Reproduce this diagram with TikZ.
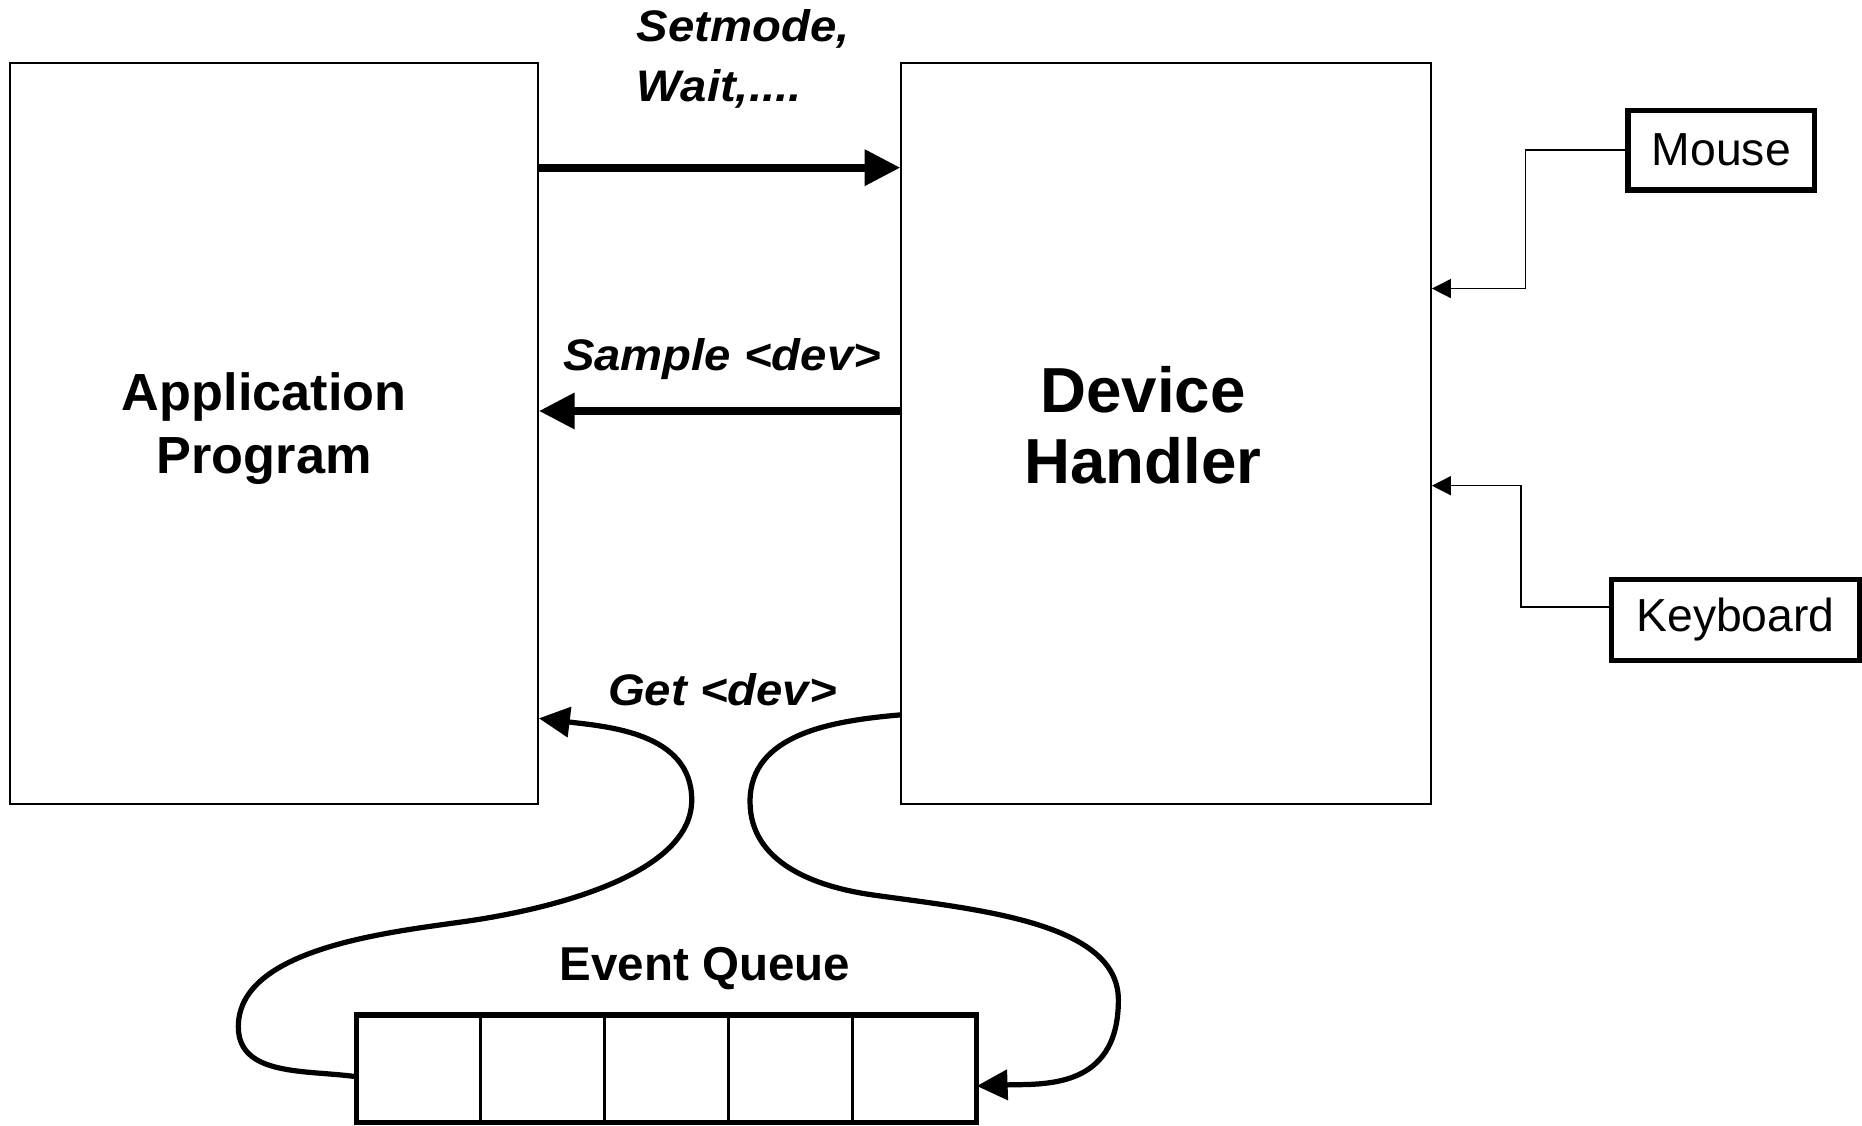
\documentclass[tikz,border=0pt]{standalone}
\usepackage{fontspec}
\setmainfont{Liberation Sans}
\newfontfamily\slantfont[FakeStretch=1.07]{Liberation Sans}
\usetikzlibrary{arrows.meta}
\begin{document}
\begin{tikzpicture}[x=0.5pt,y=0.5pt,
	block/.style={draw,line width=0.8pt,minimum height=312pt},
	dev/.style={draw,line width=2.3pt,inner sep=0pt,font=\fontsize{19.5}{23}\selectfont},
	cell/.style={draw,line width=1.1pt,minimum width=52.25pt,minimum height=45.15pt,inner sep=0pt,outer sep=0pt},
	title/.style={inner sep=0pt,align=center,font=\bfseries},
	call/.style={inner sep=0pt,font=\slantfont\bfseries\itshape\fontsize{18.6}{25}\selectfont},
	bigarrow/.style={line width=3.3pt,-{Triangle[length=15pt,width=14.5pt]}},
	wire/.style={line width=0.6pt,-{Triangle[length=8pt,width=8pt]}},
	qarrow/.style={line width=2.2pt,-{Triangle[length=13pt,width=12.5pt]}}]
	\useasboundingbox (0,0) rectangle (1568,948);
	\node[block,minimum width=222.25pt] (app) at (230.75,583) {};
	\node[block,minimum width=223pt] (dev) at (982,583) {};
	\node[title,anchor=north,font=\bfseries\fontsize{22}{26.5}\selectfont] (apptext) at (222.5,634.2) {Application\\Program};
	\node[title,anchor=north,font=\bfseries\fontsize{26.8}{30}\selectfont] (devtext) at (962.5,639.7) {Device\\Handler};
	\node[dev,minimum width=78.5pt,minimum height=33.5pt] (mouse) at (1449.5,821.5) {Mouse};
	\node[dev,minimum width=104.5pt,minimum height=34pt] (kbd) at (1461.5,426) {Keyboard};
	\node[call,anchor=north west,align=left] (setmode) at (536,940) {Setmode,\\Wait,....};
	\node[call,anchor=base] (sample) at (608,636.4) {Sample <dev>};
	\node[call,anchor=base] (get) at (608.4,354.3) {Get <dev>};
	\node[inner sep=0pt,anchor=base,font=\bfseries\fontsize{20}{23}\selectfont] (qtitle) at (593.5,122.7) {Event Queue};
	\foreach \i in {0,...,4}
		\node[cell] (q\i) at ({352.25+104.5*\i},48.15) {};
	\draw[line width=2.2pt] (q0.north west) rectangle (q4.south east);
	\draw[bigarrow] (app.east |- 0,806.8) -- (dev.west |- 0,806.8);
	\draw[bigarrow] (dev.west |- 0,601.9) -- (app.east |- 0,601.9);
	\draw[wire] (mouse.west) -- ++(-84,0) |- (dev.east |- 0,705);
	\draw[wire] (kbd.west |- 0,437) -- ++(-74,0) |- (dev.east |- 0,539);
	\draw[qarrow] (q0.west |- 0,41.3) to[out=172,in=270] (200.7,83.4)
		to[out=90,in=188,looseness=0.8] (390,171.8)
		to[out=8,in=270,in looseness=0.7] (582.5,274.3)
		to[out=90,in=-7] (app.east |- 0,343.1);
	\draw[qarrow] (dev.west |- 0,346) to[out=185,in=90] (631.6,273)
		to[out=270,in=172] (735.4,194.3)
		to[out=-8,in=90,in looseness=0.75] (941.8,105.9)
		to[out=270,in=2,out looseness=1.4] (q4.east |- 0,33.5);
\end{tikzpicture}
\end{document}
